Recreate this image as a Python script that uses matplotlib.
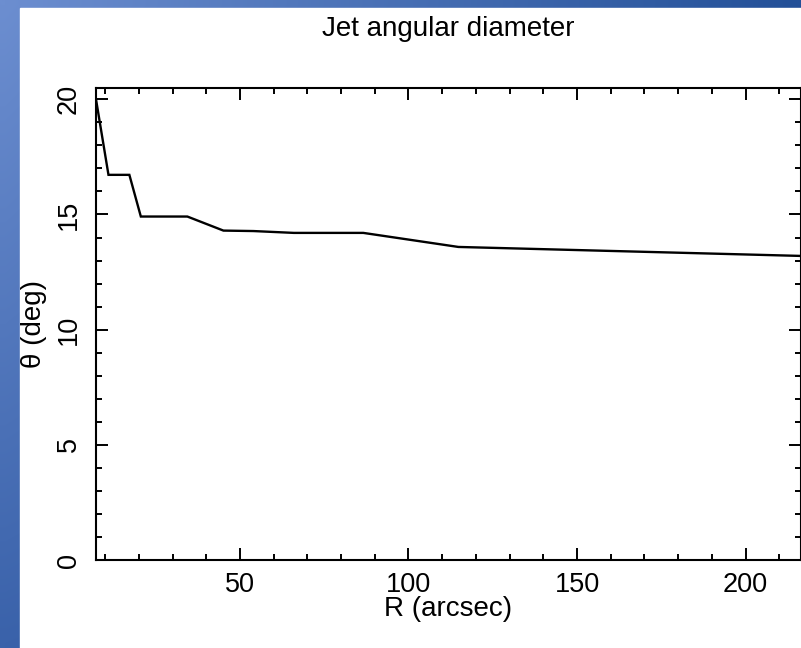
import numpy as np
import matplotlib
matplotlib.use("Agg")
import matplotlib.pyplot as plt
from matplotlib.ticker import MultipleLocator

plt.rcParams['font.family'] = ['Liberation Sans', 'DejaVu Sans']

# Data
R_arcsec = [7.3, 11.0, 17.2, 20.6, 34.4, 45.1, 54.0, 66.0, 86.6, 114.8, 216.5]
theta_deg = [20.0, 16.72, 16.72, 14.91, 14.91, 14.30, 14.28, 14.20, 14.20, 13.59, 13.20]

title = "Jet angular diameter"
xlabel = "R (arcsec)"
ylabel = "θ (deg)"

W, H = 801, 648
fig = plt.figure(figsize=(W / 100, H / 100), dpi=100)

# background gradient (slide look)
bg = fig.add_axes([0, 0, 1, 1])
ny, nx = 64, 80
u = np.linspace(0, 1, nx)[None, :, None]
v = np.linspace(0, 1, ny)[:, None, None]
TL = np.array([108, 142, 208]) / 255
TR = np.array([35, 80, 152]) / 255
BL = np.array([58, 98, 170]) / 255
BR = np.array([35, 75, 145]) / 255
img = (TL * (1 - u) * (1 - v) + TR * u * (1 - v) + BL * (1 - u) * v + BR * u * v)
bg.imshow(img, extent=[0, 1, 0, 1], aspect='auto', interpolation='bilinear')
bg.add_patch(plt.Rectangle((20 / W, 0), 1, 1 - 8 / H, color='white'))
bg.set_xlim(0, 1)
bg.set_ylim(0, 1)
bg.axis('off')

left, right, top, bottom = 96, 800.5, 88, 560
ax = fig.add_axes([left / W, 1 - bottom / H, (right - left) / W, (bottom - top) / H])
ax.plot(R_arcsec, theta_deg, color='black', lw=1.7, solid_joinstyle='miter')

ax.set_xlim(7.3, 216.3)
ax.set_ylim(0, 20.49)
ax.xaxis.set_major_locator(MultipleLocator(50))
ax.xaxis.set_minor_locator(MultipleLocator(10))
ax.yaxis.set_major_locator(MultipleLocator(5))
ax.yaxis.set_minor_locator(MultipleLocator(1))

ax.tick_params(which='both', direction='in', top=True, right=True, width=1.4, colors='black')
ax.tick_params(which='major', length=8.5, labelsize=19.5)
ax.tick_params(which='minor', length=4.5)
ax.tick_params(axis='x', which='major', pad=8.5)
ax.tick_params(axis='y', which='major', pad=10)
for lab in ax.get_yticklabels():
    lab.set_rotation(90)
    lab.set_va('center')
for s in ax.spines.values():
    s.set_linewidth(1.5)

fig.text((left + right) / 2 / W, 1 - 29 / H, title, ha='center', va='center', fontsize=20)
fig.text((left + right) / 2 / W, 1 - 609 / H, xlabel, ha='center', va='center', fontsize=20)
fig.text(34 / W, 1 - 324 / H, ylabel, ha='center', va='center', rotation=90, fontsize=20)

fig.savefig("out.png", dpi=100)
